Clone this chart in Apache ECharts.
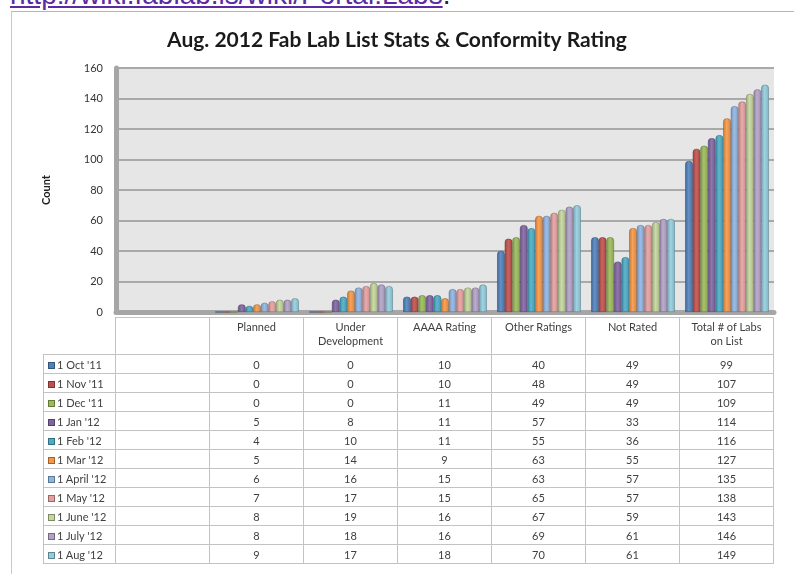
<!DOCTYPE html>
<html><head><meta charset="utf-8">
<script src="https://cdn.jsdelivr.net/npm/echarts@6/dist/echarts.min.js"></script>
<style>
body{margin:0;width:794px;height:574px;overflow:hidden;background:#fff;position:relative;font-family:Lato,'Open Sans',sans-serif}
#link{position:absolute;left:10px;top:-21px;font:28px 'Liberation Sans',Arial,sans-serif;color:#5b2aa5;text-decoration:underline;white-space:nowrap}
#link span{color:#222;text-decoration:none;display:inline-block}
#frame{position:absolute;left:11px;top:11px;width:800px;height:600px;border-left:1px solid #c9c9c9;border-top:1px solid #b5b5b5}
#chart{position:absolute;left:0;top:0;width:794px;height:574px}
#tbl{position:absolute;left:43px;top:317px;border-collapse:collapse;font-size:11px;color:#404040;table-layout:fixed;font-family:Lato,'Open Sans',sans-serif}
#tbl td{border:1.5px solid #c3c3c3;height:18px;padding:0;text-align:center;white-space:nowrap;overflow:hidden}
#tbl tr.hd td{height:34px;vertical-align:top;padding-top:2px;line-height:14px;white-space:normal}
#tbl tr.hd td.blank0{border:none;border-bottom:1.5px solid #c3c3c3}
#tbl td.lg{text-align:left;padding-left:4px;font-size:11px}
#tbl td.lg i{display:inline-block;width:7px;height:7px;margin-right:2px;vertical-align:0px;border:0.5px solid rgba(0,0,0,0.35);box-sizing:border-box}
</style>
</head><body>
<div id="link">http://wiki.fablab.is/wiki/Portal:Labs<span>.</span></div>
<div id="frame"></div>
<div id="chart"></div>
<table id="tbl"></table>
<script>
// ---- data ----
const categories = ['Planned', 'Under Development', 'AAAA Rating', 'Other Ratings', 'Not Rated', 'Total # of Labs on List'];
const dates = ["1 Oct '11", "1 Nov '11", "1 Dec '11", "1 Jan '12", "1 Feb '12", "1 Mar '12", "1 April '12", "1 May '12", "1 June '12", "1 July '12", "1 Aug '12"];
const planned      = [0, 0, 0, 5, 4, 5, 6, 7, 8, 8, 9];
const underDev     = [0, 0, 0, 8, 10, 14, 16, 17, 19, 18, 17];
const aaaaRating   = [10, 10, 11, 11, 11, 9, 15, 15, 16, 16, 18];
const otherRatings = [40, 48, 49, 57, 55, 63, 63, 65, 67, 69, 70];
const notRated     = [49, 49, 49, 33, 36, 55, 57, 57, 59, 61, 61];
const totalLabs    = [99, 107, 109, 114, 116, 127, 135, 138, 143, 146, 149];
const yTicks = [0, 20, 40, 60, 80, 100, 120, 140, 160];
const colors = ['#4F81BD', '#C0504D', '#9BBB59', '#8064A2', '#4BACC6', '#F79646', '#8EB4E3', '#E6A0A0', '#C3D69B', '#B3A2C7', '#93CDDD'];

const columns = [planned, underDev, aaaaRating, otherRatings, notRated, totalLabs];

function shade(hex, f) {
  const n = parseInt(hex.slice(1), 16);
  let r = (n >> 16) & 255, g = (n >> 8) & 255, b = n & 255;
  if (f < 0) { r = r * (1 + f); g = g * (1 + f); b = b * (1 + f); }
  else { r = r + (255 - r) * f; g = g + (255 - g) * f; b = b + (255 - b) * f; }
  return 'rgb(' + Math.round(r) + ',' + Math.round(g) + ',' + Math.round(b) + ')';
}

const axisCats = [''].concat(categories);
const series = dates.map((d, i) => ({
  name: d,
  type: 'bar',
  barGap: '0%',
  barCategoryGap: '11%',
  data: [null].concat(columns.map(c => c[i])),
  itemStyle: {
    borderRadius: [3, 3, 0, 0],
    borderColor: shade(colors[i], -0.35),
    borderWidth: 0.6,
    color: new echarts.graphic.LinearGradient(0, 0, 1, 0, [
      { offset: 0, color: shade(colors[i], -0.2) },
      { offset: 0.45, color: shade(colors[i], 0.12) },
      { offset: 1, color: shade(colors[i], -0.12) }
    ])
  }
}));

const chart = echarts.init(document.getElementById('chart'), null, { renderer: 'canvas' });
chart.setOption({
  animation: false,
  title: {
    text: 'Aug. 2012 Fab Lab List Stats & Conformity Rating',
    left: 'center', top: 25,
    textStyle: { fontSize: 21, fontWeight: 'bold', color: '#1a1a1a', fontFamily: 'Lato, Open Sans, sans-serif' }
  },
  grid: { left: 116, right: 20, top: 68, bottom: 262, show: true, backgroundColor: '#e6e6e6', borderWidth: 0 },
  xAxis: {
    type: 'category', data: axisCats,
    axisLabel: { show: false }, axisTick: { show: false },
    axisLine: { lineStyle: { color: '#a6a6a6', width: 5 } }
  },
  yAxis: {
    type: 'value', min: yTicks[0], max: yTicks[yTicks.length - 1], interval: 20,
    name: 'Count', nameLocation: 'middle', nameGap: 64, nameRotate: 90,
    nameTextStyle: { fontSize: 11, fontWeight: 'bold', color: '#222', fontFamily: 'Lato, Open Sans, sans-serif' },
    axisLabel: { fontSize: 11, color: '#333', margin: 13, padding: [9, 0, 0, 0], fontFamily: 'Lato, Open Sans, sans-serif' },
    axisLine: { show: true, lineStyle: { color: '#a6a6a6', width: 5 } },
    axisTick: { show: false },
    splitLine: { lineStyle: { color: '#a9a9a9', width: 2 } }
  },
  series: series
});

// ---- data table ----
const tbl = document.getElementById('tbl');
let html = '<colgroup><col style="width:72px">';
for (let k = 0; k < axisCats.length; k++) html += '<col style="width:94px">';
html += '</colgroup><tr class="hd"><td class="blank0"></td>';
axisCats.forEach(c => {
  let t = c;
  if (c === 'Under Development') t = 'Under<br>Development';
  if (c === 'Total # of Labs on List') t = 'Total # of Labs<br>on List';
  html += '<td>' + t + '</td>';
});
html += '</tr>';
dates.forEach((d, i) => {
  html += '<tr><td class="lg"><i style="background:' + colors[i] + '"></i>' + d + '</td><td></td>';
  columns.forEach(c => { html += '<td>' + c[i] + '</td>'; });
  html += '</tr>';
});
tbl.innerHTML = html;
</script>
</body></html>
